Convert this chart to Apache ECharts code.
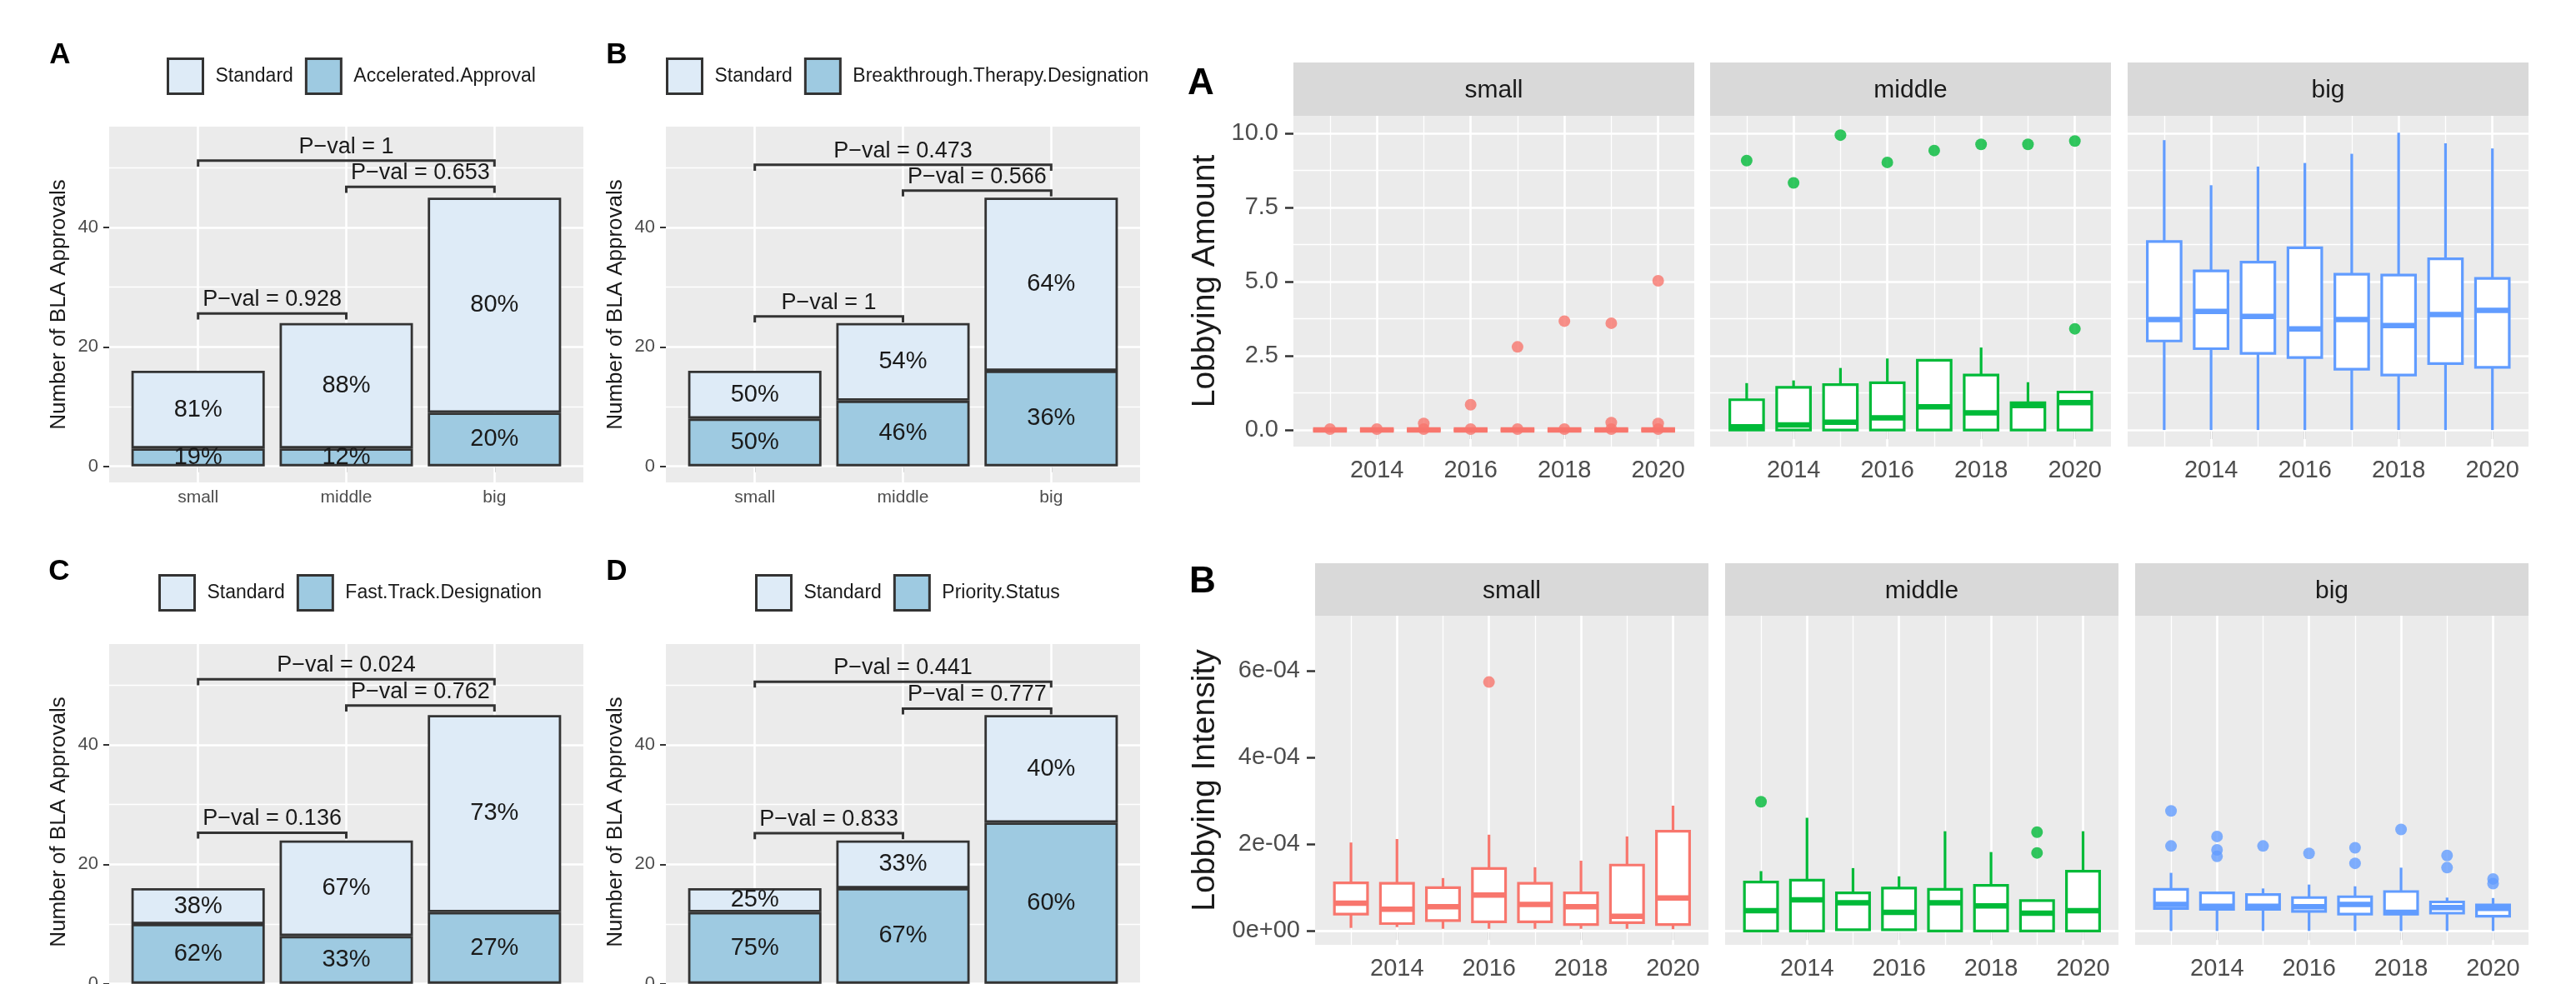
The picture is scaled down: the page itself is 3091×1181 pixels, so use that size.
<!DOCTYPE html>
<html>
<head>
<meta charset="utf-8">
<script src="https://cdn.jsdelivr.net/npm/echarts@6/dist/echarts.min.js"></script>
<style>
  html, body { margin: 0; padding: 0; background: #fff; }
  #chart { width: 3091px; height: 1181px; }
</style>
</head>
<body>
<div id="chart"></div>
<script>
// ---- left side: stacked bars (counts of BLA approvals) ----
const SIZE_CATS = ['small', 'middle', 'big'];
const SIZE_POS = [1, 2, 3];
const BAR_TICKS = [0, 20, 40];
const PAIR_FROM = [1, 2, 1];
const PAIR_TO = [3, 3, 2];

const AA_STD = [13, 21, 36];
const AA_OTHER = [3, 3, 9];
const AA_STD_PCT = ['81%', '88%', '80%'];
const AA_OTHER_PCT = ['19%', '12%', '20%'];
const AA_PVAL = ['1', '0.653', '0.928'];
const AA_BRACKET_Y = [51.2, 46.8, 25.6];

const BT_STD = [8, 13, 29];
const BT_OTHER = [8, 11, 16];
const BT_STD_PCT = ['50%', '54%', '64%'];
const BT_OTHER_PCT = ['50%', '46%', '36%'];
const BT_PVAL = ['0.473', '0.566', '1'];
const BT_BRACKET_Y = [50.5, 46.2, 25.1];

const FT_STD = [6, 16, 33];
const FT_OTHER = [10, 8, 12];
const FT_STD_PCT = ['38%', '67%', '73%'];
const FT_OTHER_PCT = ['62%', '33%', '27%'];
const FT_PVAL = ['0.024', '0.762', '0.136'];
const FT_BRACKET_Y = [51.0, 46.6, 25.3];

const PS_STD = [4, 8, 18];
const PS_OTHER = [12, 16, 27];
const PS_STD_PCT = ['25%', '33%', '40%'];
const PS_OTHER_PCT = ['75%', '67%', '60%'];
const PS_PVAL = ['0.441', '0.777', '0.833'];
const PS_BRACKET_Y = [50.6, 46.1, 25.2];

// ---- right side: boxplots by year and firm size ----
const YEARS = [2013, 2014, 2015, 2016, 2017, 2018, 2019, 2020];
const YEAR_TICKS = [2014, 2016, 2018, 2020];
const FACETS = ['small', 'middle', 'big'];

const AMT_TICKS = [0, 2.5, 5, 7.5, 10];
const AMT_TICK_LABELS = ['0.0', '2.5', '5.0', '7.5', '10.0'];

const AMT_SMALL_LO = [0, 0, 0, 0, 0, 0, 0, 0];
const AMT_SMALL_Q1 = [0, 0, 0, 0, 0, 0, 0, 0];
const AMT_SMALL_MED = [0, 0, 0, 0, 0, 0, 0, 0];
const AMT_SMALL_Q3 = [0, 0, 0, 0, 0, 0, 0, 0];
const AMT_SMALL_HI = [0, 0, 0, 0, 0, 0, 0, 0];
const AMT_SMALL_OUT_X = [2013, 2014, 2015, 2015, 2016, 2016, 2017, 2017, 2018, 2018, 2019, 2019, 2019, 2020, 2020, 2020];
const AMT_SMALL_OUT_Y = [0.03, 0.03, 0.03, 0.22, 0.03, 0.85, 0.03, 2.8, 0.03, 3.67, 0.03, 0.25, 3.6, 0.03, 0.22, 5.03];

const AMT_MID_LO = [0, 0, 0, 0, 0, 0, 0, 0];
const AMT_MID_Q1 = [0, 0, 0, 0, 0, 0, 0, 0];
const AMT_MID_MED = [0.11, 0.17, 0.26, 0.41, 0.78, 0.58, 0.82, 0.92];
const AMT_MID_Q3 = [1.02, 1.44, 1.53, 1.59, 2.35, 1.85, 0.92, 1.28];
const AMT_MID_HI = [1.58, 1.67, 2.09, 2.41, 2.35, 2.78, 1.61, 1.28];
const AMT_MID_OUT_X = [2013, 2014, 2015, 2016, 2017, 2018, 2019, 2020, 2020];
const AMT_MID_OUT_Y = [9.08, 8.33, 9.94, 9.02, 9.42, 9.63, 9.63, 9.74, 3.41];

const AMT_BIG_LO = [0, 0, 0, 0, 0, 0, 0, 0];
const AMT_BIG_Q1 = [3.0, 2.74, 2.58, 2.44, 2.05, 1.85, 2.24, 2.11];
const AMT_BIG_MED = [3.72, 4.0, 3.83, 3.41, 3.72, 3.52, 3.89, 4.03];
const AMT_BIG_Q3 = [6.35, 5.36, 5.66, 6.14, 5.25, 5.22, 5.77, 5.11];
const AMT_BIG_HI = [9.77, 8.25, 8.88, 9.0, 9.31, 10.02, 9.66, 9.49];
const AMT_BIG_OUT_X = [];
const AMT_BIG_OUT_Y = [];

const INT_TICKS = [0, 2e-4, 4e-4, 6e-4];
const INT_TICK_LABELS = ['0e+00', '2e-04', '4e-04', '6e-04'];

const INT_SMALL_LO = [0.07e-4, 0.09e-4, 0.05e-4, 0.05e-4, 0.05e-4, 0.05e-4, 0.05e-4, 0.04e-4];
const INT_SMALL_Q1 = [0.39e-4, 0.17e-4, 0.24e-4, 0.21e-4, 0.21e-4, 0.15e-4, 0.19e-4, 0.15e-4];
const INT_SMALL_MED = [0.64e-4, 0.50e-4, 0.56e-4, 0.83e-4, 0.61e-4, 0.56e-4, 0.34e-4, 0.76e-4];
const INT_SMALL_Q3 = [1.11e-4, 1.10e-4, 1.00e-4, 1.44e-4, 1.10e-4, 0.88e-4, 1.52e-4, 2.30e-4];
const INT_SMALL_HI = [2.04e-4, 2.12e-4, 1.22e-4, 2.22e-4, 1.47e-4, 1.62e-4, 2.18e-4, 2.89e-4];
const INT_SMALL_OUT_X = [2016];
const INT_SMALL_OUT_Y = [5.74e-4];

const INT_MID_LO = [0, 0, 0.03e-4, 0.03e-4, 0, 0, 0, 0];
const INT_MID_Q1 = [0, 0, 0.03e-4, 0.03e-4, 0, 0, 0, 0];
const INT_MID_MED = [0.47e-4, 0.72e-4, 0.65e-4, 0.43e-4, 0.65e-4, 0.58e-4, 0.41e-4, 0.47e-4];
const INT_MID_Q3 = [1.13e-4, 1.17e-4, 0.88e-4, 0.99e-4, 0.96e-4, 1.05e-4, 0.70e-4, 1.38e-4];
const INT_MID_HI = [1.38e-4, 2.61e-4, 1.45e-4, 1.26e-4, 2.30e-4, 1.82e-4, 0.70e-4, 2.30e-4];
const INT_MID_OUT_X = [2013, 2019, 2019];
const INT_MID_OUT_Y = [2.98e-4, 2.28e-4, 1.80e-4];

const INT_BIG_LO = [0, 0, 0, 0, 0, 0, 0, 0];
const INT_BIG_Q1 = [0.52e-4, 0.50e-4, 0.50e-4, 0.45e-4, 0.39e-4, 0.39e-4, 0.41e-4, 0.34e-4];
const INT_BIG_MED = [0.61e-4, 0.57e-4, 0.57e-4, 0.56e-4, 0.61e-4, 0.43e-4, 0.54e-4, 0.52e-4];
const INT_BIG_Q3 = [0.96e-4, 0.88e-4, 0.84e-4, 0.77e-4, 0.79e-4, 0.91e-4, 0.67e-4, 0.60e-4];
const INT_BIG_HI = [1.34e-4, 0.88e-4, 0.98e-4, 1.07e-4, 1.03e-4, 1.46e-4, 0.77e-4, 0.76e-4];
const INT_BIG_OUT_X = [2013, 2013, 2014, 2014, 2014, 2015, 2016, 2017, 2017, 2018, 2019, 2019, 2020, 2020];
const INT_BIG_OUT_Y = [2.77e-4, 1.96e-4, 2.18e-4, 1.87e-4, 1.72e-4, 1.96e-4, 1.79e-4, 1.92e-4, 1.56e-4, 2.34e-4, 1.74e-4, 1.46e-4, 1.20e-4, 1.09e-4];

// ---- styling ----
const FONT = '"Liberation Sans", Arial, Helvetica, sans-serif';
const PANEL_BG = '#EBEBEB';
const STRIP_BG = '#D9D9D9';
const STD_COLOR = '#DEEBF7';
const OTHER_COLOR = '#9ECAE1';
const FACET_COLORS = ['#F8766D', '#00BA38', '#619CFF'];
const BAR_PLOT_W = 569, BAR_PLOT_H = 427;
const BAR_W = 0.9 * BAR_PLOT_W / 3.2;
const BOX_HALF = 0.36;
const BRACKET_TIP = 1.0;

const grids = [], xAxes = [], yAxes = [], series = [], legends = [], graphics = [];

function gridMarks(xMajor, xMinor, yMajor, yMinor) {
  const d = [];
  yMinor.forEach(v => d.push({ yAxis: v, lineStyle: { width: 1.3 } }));
  xMinor.forEach(v => d.push({ xAxis: v, lineStyle: { width: 1.3 } }));
  yMajor.forEach(v => d.push({ yAxis: v, lineStyle: { width: 2.6 } }));
  xMajor.forEach(v => d.push({ xAxis: v, lineStyle: { width: 2.6 } }));
  return {
    silent: true, symbol: 'none', z: 1, animation: false,
    label: { show: false }, emphasis: { disabled: true },
    lineStyle: { color: '#fff', type: 'solid' },
    data: d
  };
}

function letter(text, x, y, size) {
  graphics.push({
    type: 'text', x: x, y: y, silent: true,
    style: { text: text, fontFamily: FONT, fontWeight: 'bold', fontSize: size, fill: '#000', align: 'center', verticalAlign: 'middle' }
  });
}

function panelGrid(left, top, width, height) {
  return { left: left, top: top, width: width, height: height, show: true, backgroundColor: PANEL_BG, borderWidth: 0,
    containLabel: false, outerBoundsMode: 'none' };
}

// ---- bar panels ----
const barPanels = [
  { letter: 'A', other: 'Accelerated.Approval', std: AA_STD, oth: AA_OTHER, stdPct: AA_STD_PCT, othPct: AA_OTHER_PCT, pval: AA_PVAL, by: AA_BRACKET_Y,
    left: 131, top: 152, legendLeft: 200, legendTop: 69, lx: 72, ly: 66 },
  { letter: 'B', other: 'Breakthrough.Therapy.Designation', std: BT_STD, oth: BT_OTHER, stdPct: BT_STD_PCT, othPct: BT_OTHER_PCT, pval: BT_PVAL, by: BT_BRACKET_Y,
    left: 799, top: 152, legendLeft: 799, legendTop: 69, lx: 740, ly: 66 },
  { letter: 'C', other: 'Fast.Track.Designation', std: FT_STD, oth: FT_OTHER, stdPct: FT_STD_PCT, othPct: FT_OTHER_PCT, pval: FT_PVAL, by: FT_BRACKET_Y,
    left: 131, top: 773, legendLeft: 190, legendTop: 689, lx: 71, ly: 686 },
  { letter: 'D', other: 'Priority.Status', std: PS_STD, oth: PS_OTHER, stdPct: PS_STD_PCT, othPct: PS_OTHER_PCT, pval: PS_PVAL, by: PS_BRACKET_Y,
    left: 799, top: 773, legendLeft: 906, legendTop: 689, lx: 740, ly: 686 }
];

barPanels.forEach(p => {
  const g = grids.length;
  grids.push(panelGrid(p.left, p.top, BAR_PLOT_W, BAR_PLOT_H));
  xAxes.push({
    gridIndex: g, type: 'value', min: 0.4, max: 3.6,
    axisLine: { show: false }, splitLine: { show: false },
    axisTick: { show: true, customValues: SIZE_POS, length: 7, lineStyle: { color: '#333', width: 2 } },
    axisLabel: { customValues: SIZE_POS, formatter: v => SIZE_CATS[Math.round(v) - 1], fontSize: 21, color: '#4D4D4D', margin: 8, fontFamily: FONT }
  });
  yAxes.push({
    gridIndex: g, type: 'value', min: -2.7, max: 56.9,
    axisLine: { show: false }, splitLine: { show: false },
    axisTick: { show: true, customValues: BAR_TICKS, length: 7, lineStyle: { color: '#333', width: 2 } },
    axisLabel: { customValues: BAR_TICKS, fontSize: 22, color: '#4D4D4D', margin: 13, fontFamily: FONT },
    name: 'Number of BLA Approvals', nameLocation: 'middle', nameGap: 47,
    nameTextStyle: { fontSize: 26, color: '#1A1A1A', fontFamily: FONT }
  });
  const barLabel = (pcts) => ({
    show: true, position: 'inside', formatter: q => pcts[q.dataIndex],
    fontSize: 29, color: '#1A1A1A', fontFamily: FONT, textBorderWidth: 0
  });
  // items are [count, position] so the count is the stacked dimension
  series.push({
    type: 'bar', name: p.other, xAxisIndex: g, yAxisIndex: g, stack: 'bar' + g, barWidth: BAR_W, z: 2,
    encode: { x: 1, y: 0 },
    data: SIZE_POS.map((x, i) => [p.oth[i], x]),
    itemStyle: { color: OTHER_COLOR, borderColor: '#333', borderWidth: 2.8 },
    label: barLabel(p.othPct),
    emphasis: { disabled: true },
    markLine: gridMarks(SIZE_POS, [], BAR_TICKS, [10, 30, 50])
  });
  series.push({
    type: 'bar', name: 'Standard', xAxisIndex: g, yAxisIndex: g, stack: 'bar' + g, barWidth: BAR_W, z: 2,
    encode: { x: 1, y: 0 },
    data: SIZE_POS.map((x, i) => [p.std[i], x]),
    itemStyle: { color: STD_COLOR, borderColor: '#333', borderWidth: 2.8 },
    label: barLabel(p.stdPct),
    emphasis: { disabled: true }
  });
  const pv = p.pval;
  series.push({
    type: 'custom', xAxisIndex: g, yAxisIndex: g, z: 3, silent: true,
    data: PAIR_FROM.map((f, i) => [f, p.by[i], PAIR_TO[i]]),
    encode: { x: [0, 2], y: 1 },
    renderItem: (params, api) => {
      const x1 = api.value(0), y = api.value(1), x2 = api.value(2);
      const a = api.coord([x1, y]), b = api.coord([x2, y]);
      const a0 = api.coord([x1, y - BRACKET_TIP]), b0 = api.coord([x2, y - BRACKET_TIP]);
      return {
        type: 'group',
        children: [
          { type: 'polyline', shape: { points: [a0, a, b, b0] }, style: { stroke: '#333', lineWidth: 3, fill: null } },
          { type: 'text', style: { text: 'P\u2212val = ' + pv[params.dataIndex], x: (a[0] + b[0]) / 2, y: a[1] - 3,
            align: 'center', verticalAlign: 'bottom', fontSize: 27, fontFamily: FONT, fill: '#1A1A1A' } }
        ]
      };
    }
  });
  legends.push({
    left: p.legendLeft, top: p.legendTop, padding: 0, icon: 'rect', itemWidth: 42, itemHeight: 42, itemGap: 14,
    selectedMode: false, data: ['Standard', p.other],
    itemStyle: { borderColor: '#333', borderWidth: 3 },
    textStyle: { fontSize: 23, color: '#1A1A1A', fontFamily: FONT, padding: [0, 0, 0, 10] }
  });
  letter(p.letter, p.lx, p.ly, 35);
});

// ---- box plot facets ----
function boxRenderer(color) {
  return function (params, api) {
    const x = api.value(0);
    const cLo = api.coord([x, api.value(1)]);
    const cQ1 = api.coord([x, api.value(2)]);
    const cMd = api.coord([x, api.value(3)]);
    const cQ3 = api.coord([x, api.value(4)]);
    const cHi = api.coord([x, api.value(5)]);
    const xl = api.coord([x - BOX_HALF, api.value(3)])[0];
    const xr = api.coord([x + BOX_HALF, api.value(3)])[0];
    return {
      type: 'group',
      children: [
        { type: 'line', shape: { x1: cHi[0], y1: cHi[1], x2: cQ3[0], y2: cQ3[1] }, style: { stroke: color, lineWidth: 3.2 } },
        { type: 'line', shape: { x1: cQ1[0], y1: cQ1[1], x2: cLo[0], y2: cLo[1] }, style: { stroke: color, lineWidth: 3.2 } },
        { type: 'rect', shape: { x: xl, y: cQ3[1], width: xr - xl, height: cQ1[1] - cQ3[1] }, style: { fill: '#fff', stroke: color, lineWidth: 3.2 } },
        { type: 'line', shape: { x1: xl, y1: cMd[1], x2: xr, y2: cMd[1] }, style: { stroke: color, lineWidth: 6.5 } }
      ]
    };
  };
}

const boxRows = [
  { letter: 'A', lx: 1441, ly: 101, title: 'Lobbying Amount', nameGap: 86,
    top: 139, height: 397, width: 481, lefts: [1552, 2052, 2553], stripTop: 75, stripH: 64,
    yMin: -0.56, yMax: 10.59, ticks: AMT_TICKS, tickLabels: AMT_TICK_LABELS, minor: [1.25, 3.75, 6.25, 8.75],
    facets: [
      [AMT_SMALL_LO, AMT_SMALL_Q1, AMT_SMALL_MED, AMT_SMALL_Q3, AMT_SMALL_HI, AMT_SMALL_OUT_X, AMT_SMALL_OUT_Y],
      [AMT_MID_LO, AMT_MID_Q1, AMT_MID_MED, AMT_MID_Q3, AMT_MID_HI, AMT_MID_OUT_X, AMT_MID_OUT_Y],
      [AMT_BIG_LO, AMT_BIG_Q1, AMT_BIG_MED, AMT_BIG_Q3, AMT_BIG_HI, AMT_BIG_OUT_X, AMT_BIG_OUT_Y]
    ] },
  { letter: 'B', lx: 1443, ly: 699, title: 'Lobbying Intensity', nameGap: 112,
    top: 739, height: 395, width: 472, lefts: [1578, 2070, 2562], stripTop: 676, stripH: 63,
    yMin: -0.32e-4, yMax: 7.27e-4, ticks: INT_TICKS, tickLabels: INT_TICK_LABELS, minor: [1e-4, 3e-4, 5e-4, 7e-4],
    facets: [
      [INT_SMALL_LO, INT_SMALL_Q1, INT_SMALL_MED, INT_SMALL_Q3, INT_SMALL_HI, INT_SMALL_OUT_X, INT_SMALL_OUT_Y],
      [INT_MID_LO, INT_MID_Q1, INT_MID_MED, INT_MID_Q3, INT_MID_HI, INT_MID_OUT_X, INT_MID_OUT_Y],
      [INT_BIG_LO, INT_BIG_Q1, INT_BIG_MED, INT_BIG_Q3, INT_BIG_HI, INT_BIG_OUT_X, INT_BIG_OUT_Y]
    ] }
];

boxRows.forEach(r => {
  letter(r.letter, r.lx, r.ly, 44);
  r.facets.forEach((f, k) => {
    const g = grids.length;
    const color = FACET_COLORS[k];
    const first = k === 0;
    grids.push(panelGrid(r.lefts[k], r.top, r.width, r.height));
    xAxes.push({
      gridIndex: g, type: 'value', min: 2012.22, max: 2020.77,
      axisLine: { show: false }, splitLine: { show: false },
      axisTick: { show: true, customValues: YEAR_TICKS, length: 11, lineStyle: { color: '#333', width: 2.5 } },
      axisLabel: { customValues: YEAR_TICKS, formatter: v => String(Math.round(v)), fontSize: 29, color: '#4D4D4D', margin: 14, fontFamily: FONT }
    });
    const ticks = r.ticks, labels = r.tickLabels;
    yAxes.push({
      gridIndex: g, type: 'value', min: r.yMin, max: r.yMax,
      axisLine: { show: false }, splitLine: { show: false },
      axisTick: { show: first, customValues: ticks, length: 10, lineStyle: { color: '#333', width: 2.5 } },
      axisLabel: { show: first, customValues: ticks, fontSize: 29, color: '#4D4D4D', margin: 18, fontFamily: FONT,
        formatter: v => { let j = 0; ticks.forEach((t, i) => { if (Math.abs(t - v) < Math.abs(ticks[j] - v)) j = i; }); return labels[j]; } },
      name: first ? r.title : '', nameLocation: 'middle', nameGap: r.nameGap,
      nameTextStyle: { fontSize: 39, color: '#1A1A1A', fontFamily: FONT }
    });
    series.push({
      type: 'custom', xAxisIndex: g, yAxisIndex: g, z: 3, silent: true,
      data: YEARS.map((yr, i) => [yr, f[0][i], f[1][i], f[2][i], f[3][i], f[4][i]]),
      encode: { x: 0, y: [1, 2, 3, 4, 5] },
      renderItem: boxRenderer(color),
      markLine: gridMarks(YEAR_TICKS, [2013, 2015, 2017, 2019], ticks, r.minor)
    });
    series.push({
      type: 'scatter', xAxisIndex: g, yAxisIndex: g, z: 4, silent: true,
      symbolSize: 14, itemStyle: { color: color },
      data: f[5].map((x, i) => [x, f[6][i]])
    });
    graphics.push({
      type: 'rect', silent: true,
      shape: { x: r.lefts[k], y: r.stripTop, width: r.width, height: r.stripH },
      style: { fill: STRIP_BG }
    });
    graphics.push({
      type: 'text', silent: true, x: r.lefts[k] + r.width / 2, y: r.stripTop + r.stripH / 2 + 2,
      style: { text: FACETS[k], fontFamily: FONT, fontSize: 30, fill: '#1A1A1A', align: 'center', verticalAlign: 'middle' }
    });
  });
});

const chart = echarts.init(document.getElementById('chart'));
chart.setOption({
  animation: false,
  backgroundColor: '#fff',
  textStyle: { fontFamily: FONT },
  grid: grids,
  xAxis: xAxes,
  yAxis: yAxes,
  legend: legends,
  graphic: graphics,
  series: series
});
</script>
</body>
</html>
